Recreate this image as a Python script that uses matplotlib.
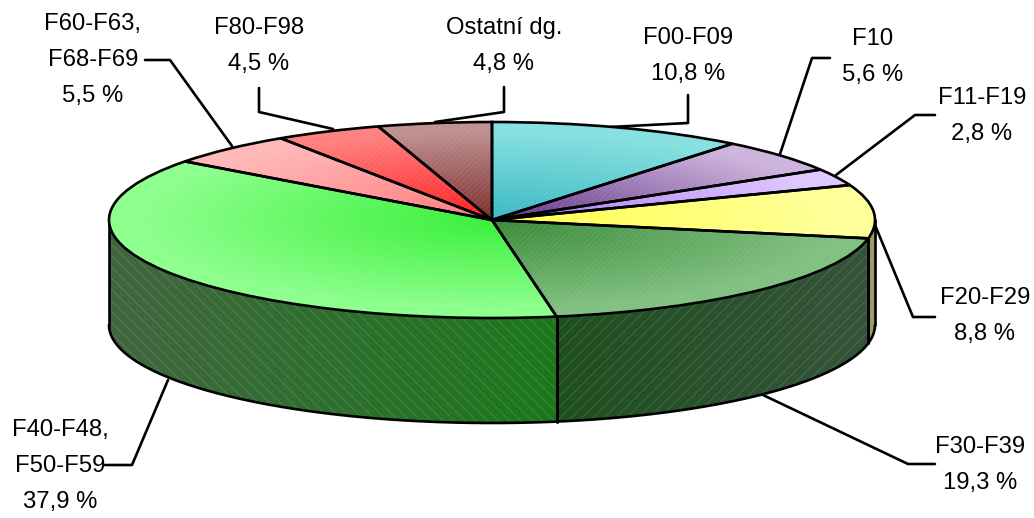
import numpy as np
import matplotlib
matplotlib.use('Agg')
import matplotlib.pyplot as plt
from matplotlib.colors import to_rgb

plt.rcParams['font.family'] = ['Liberation Sans', 'DejaVu Sans']
plt.rcParams['hatch.linewidth'] = 0.4
plt.rcParams['lines.solid_capstyle'] = 'round'

# data
labels = ['F00-F09', 'F10', 'F11-F19', 'F20-F29', 'F30-F39',
          'F40-F48,\nF50-F59', 'F60-F63,\nF68-F69', 'F80-F98', 'Ostatní dg.']
values = [10.8, 5.6, 2.8, 8.8, 19.3, 37.9, 5.5, 4.5, 4.8]
value_text = ['10,8 %', '5,6 %', '2,8 %', '8,8 %', '19,3 %', '37,9 %', '5,5 %', '4,5 %', '4,8 %']

# colours: centre of slice -> rim of slice
inner = ['#38b8c4', '#5f3488', '#a878f0', '#ffff48', '#3a8a3a', '#38f038', '#ff7878', '#ff1c1c', '#7c2c2c']
outer = ['#86e0e0', '#cdb4dc', '#e0c8ff', '#ffff99', '#80c080', '#8cff8c', '#ffb8b8', '#ff8080', '#c09090']
# side wall colours, left -> right
wall_left = {3: '#9c9c64', 4: '#1f4f1f', 5: '#426640'}
wall_right = {3: '#9c9c64', 4: '#36543a', 5: '#1c781c'}
wall_hatch = {3: '', 4: '///', 5: '\\\\\\'}

# pixel geometry of the ellipse
W, H = 1034, 518
CX, CY, RX, RY, DEPTH = 492, 220, 383, 98, 105
LW = 1.9


def px(x, y):
    return (x - CX) / RX, (CY - y) / RY


fig = plt.figure(figsize=(W / 100, H / 100), dpi=100)
ax = fig.add_axes([0, 0, 1, 1])

wedges, _ = ax.pie(values, startangle=90, counterclock=False, radius=1,
                   wedgeprops=dict(facecolor='none', edgecolor='black', linewidth=LW, zorder=6))
ax.pie(values, startangle=90, counterclock=False, radius=1,
       wedgeprops=dict(facecolor='none', edgecolor=(1, 1, 1, 0.14), linewidth=0,
                       hatch='//////', zorder=5))

# radial gradient on the top face
gx, gy = np.meshgrid(np.linspace(-1.02, 1.02, 500), np.linspace(-1.02, 1.02, 300))
r = np.clip(np.hypot(gx, gy), 0, 1)[..., None]
for i, w in enumerate(wedges):
    c0 = np.array(to_rgb(inner[i]))
    c1 = np.array(to_rgb(outer[i]))
    t = np.clip(r * 1.1, 0, 1)
    im = ax.imshow(c0 * (1 - t) + c1 * t, extent=(-1.02, 1.02, -1.02, 1.02), origin='lower',
                   aspect='auto', zorder=4, interpolation='bilinear')
    im.set_clip_path(w)

# side walls from the same values
d = DEPTH / RY
cum = np.cumsum([0] + values) / sum(values)
for i in wall_left:
    a0 = np.radians(90 - 360 * cum[i + 1])
    a1 = np.radians(90 - 360 * cum[i])
    a0, a1 = max(a0, -np.pi), min(a1, 0)
    a = np.linspace(a0, a1, 200)
    xs = np.cos(a)
    ys = np.sin(a)
    poly = ax.fill_between(xs, ys - d, ys, color='none', zorder=2)
    c0 = np.array(to_rgb(wall_left[i]))
    c1 = np.array(to_rgb(wall_right[i]))
    lo, hi = xs.min(), xs.max()
    t = np.linspace(0, 1, 200)[None, :, None]
    im = ax.imshow(c0 * (1 - t) + c1 * t, extent=(lo, hi, -3, 0.5), aspect='auto', zorder=1)
    im.set_clip_path(poly.get_paths()[0], transform=ax.transData)
    ax.fill_between(xs, ys - d, ys, facecolor='none', edgecolor=(1, 1, 1, 0.22), linewidth=0,
                    hatch=wall_hatch[i], zorder=2)
    ax.plot(xs, ys - d, color='black', lw=LW, zorder=3)
    ax.plot([xs[0], xs[0]], [ys[0], ys[0] - d], color='black', lw=LW, zorder=3)
    ax.plot([xs[-1], xs[-1]], [ys[-1], ys[-1] - d], color='black', lw=LW, zorder=3)

# leader lines
leaders = [
    [(688, 95), (688, 123), (610, 127)],
    [(830, 58), (812, 58), (780, 154)],
    [(935, 115), (915, 115), (836, 175)],
    [(935, 317), (913, 317), (875, 225)],
    [(935, 464), (908, 464), (763, 395)],
    [(105, 465), (132, 465), (168, 380)],
    [(145, 60), (170, 60), (232, 146)],
    [(259, 88), (259, 112), (333, 129)],
    [(504, 87), (504, 112), (435, 122)],
]
for pts in leaders:
    p = [px(*q) for q in pts]
    ax.plot([q[0] for q in p], [q[1] for q in p], color='black', lw=LW, zorder=0.5)

# labels
label_pos = [(688, 56), (873, 57), (982, 116), (985, 316), (980, 465), (60, 466), (93, 60), (259, 46), (504, 46)]
for i, (x, y) in enumerate(label_pos):
    tx, ty = px(x, y)
    ax.text(tx, ty, labels[i] + '\n' + value_text[i], ha='center', va='center',
            fontsize=17.2, linespacing=1.82, color='black', zorder=7)

ax.set_aspect('auto')
ax.set_xlim(px(0, 0)[0], px(W, 0)[0])
ax.set_ylim(px(0, H)[1], px(0, 0)[1])
ax.axis('off')

fig.savefig('out.png', dpi=100)
